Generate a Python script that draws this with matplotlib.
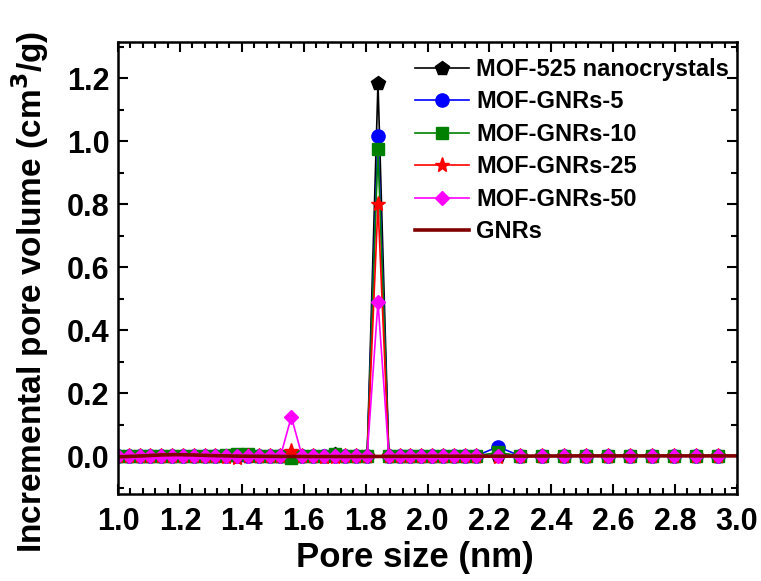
import matplotlib
matplotlib.use("Agg")
import matplotlib.pyplot as plt
from matplotlib.ticker import MultipleLocator

plt.rcParams['font.family'] = ['Liberation Sans', 'DejaVu Sans']
plt.rcParams['font.weight'] = 'bold'

# pore size grid (nm)
pore = [1.000, 1.035, 1.070, 1.105, 1.140, 1.175, 1.210, 1.245, 1.280, 1.315,
        1.350, 1.385, 1.420, 1.455, 1.490, 1.525, 1.560, 1.595, 1.630, 1.665,
        1.700, 1.735, 1.770, 1.805, 1.840, 1.875, 1.910, 1.945, 1.980, 2.015,
        2.050, 2.085, 2.120, 2.157, 2.228, 2.299, 2.370, 2.441, 2.512, 2.583,
        2.654, 2.725, 2.796, 2.867, 2.938]

mof525 = [0.001, 0.001, 0.001, 0.002, 0.002, 0.002, 0.002, 0.002, 0.001, 0.001,
          0.001, 0.002, 0.002, 0.001, 0.001, 0.001, 0.002, 0.001, 0.001, 0.001,
          0.008, 0.002, 0.001, 0.001, 1.185, 0.001, 0.001, 0.001, 0.001, 0.001,
          0.001, 0.001, 0.001, 0.001, 0.002, 0.001, 0.001, 0.001, 0.001, 0.001,
          0.001, 0.001, 0.001, 0.001, 0.001]
gnrs5 = [0.001, 0.001, 0.001, 0.001, 0.001, 0.001, 0.001, 0.001, 0.001, 0.001,
         0.001, 0.001, 0.001, 0.001, 0.001, 0.001, 0.000, 0.001, 0.001, 0.001,
         0.001, 0.001, 0.001, 0.001, 1.018, 0.001, 0.001, 0.001, 0.001, 0.001,
         0.001, 0.001, 0.001, 0.001, 0.030, 0.001, 0.001, 0.001, 0.001, 0.001,
         0.001, 0.001, 0.001, 0.001, 0.001]
gnrs10 = [0.001, 0.001, 0.001, 0.001, 0.001, 0.001, 0.001, 0.001, 0.001, 0.001,
          0.005, 0.007, 0.006, 0.001, 0.001, 0.001, -0.006, 0.001, 0.001, 0.001,
          0.006, 0.001, 0.001, 0.001, 0.975, 0.001, 0.001, 0.001, 0.001, 0.001,
          0.001, 0.001, 0.001, 0.001, 0.012, 0.001, 0.001, 0.001, 0.001, 0.001,
          0.001, 0.001, 0.001, 0.001, 0.001]
gnrs25 = [0.000, 0.000, 0.000, 0.000, 0.000, 0.000, 0.000, 0.000, 0.000, 0.000,
          -0.004, -0.005, 0.000, 0.000, 0.000, 0.000, 0.016, 0.000, 0.000, -0.004,
          -0.004, 0.000, 0.000, 0.000, 0.800, 0.000, 0.000, 0.000, 0.000, 0.000,
          0.000, 0.000, 0.000, 0.000, -0.004, 0.000, 0.000, 0.000, 0.000, 0.000,
          0.000, 0.000, 0.000, 0.000, 0.000]
gnrs50 = [0.000, 0.000, 0.000, 0.000, 0.000, 0.000, 0.000, 0.000, 0.000, 0.000,
          0.000, 0.000, 0.000, 0.000, 0.000, 0.000, 0.125, 0.000, 0.000, 0.000,
          0.000, 0.000, 0.000, 0.000, 0.490, 0.000, 0.000, 0.000, 0.000, 0.000,
          0.000, 0.000, 0.000, 0.000, 0.000, 0.000, 0.000, 0.000, 0.000, 0.000,
          0.000, 0.000, 0.000, 0.000, 0.000]

gnr_x = [1.00, 1.08, 1.14, 1.19, 1.24, 1.30, 1.40, 1.60, 1.80, 2.00, 2.20, 2.50, 2.80, 3.00]
gnr_y = [-0.002, 0.001, 0.004, 0.005, 0.004, 0.002, 0.000, -0.001, -0.001, 0.000, 0.000, 0.001, 0.001, 0.001]

series = [
    ('MOF-525 nanocrystals', mof525, 'black', 'p', 10),
    ('MOF-GNRs-5', gnrs5, 'blue', 'o', 9.5),
    ('MOF-GNRs-10', gnrs10, 'green', 's', 9),
    ('MOF-GNRs-25', gnrs25, 'red', '*', 11),
    ('MOF-GNRs-50', gnrs50, 'magenta', 'D', 7.5),
]

fig = plt.figure(figsize=(7.61, 5.81), dpi=100)
ax = fig.add_axes([118/761, 1-494/581, 619/761, 452/581])

for name, ys, col, mk, ms in series:
    ax.plot(pore, ys, color=col, marker=mk, markersize=ms, lw=1.2, label=name)
ax.plot(gnr_x, gnr_y, color='#800000', lw=2.6, label='GNRs')

ax.set_xlim(1.0, 3.0)
ax.set_ylim(-0.12, 1.315)
ax.xaxis.set_major_locator(MultipleLocator(0.2))
ax.xaxis.set_minor_locator(MultipleLocator(0.04))
ax.yaxis.set_major_locator(MultipleLocator(0.2))
ax.yaxis.set_minor_locator(MultipleLocator(0.1))
ax.xaxis.set_major_formatter(plt.FuncFormatter(lambda v, p: '%.1f' % v))
ax.yaxis.set_major_formatter(plt.FuncFormatter(lambda v, p: '%.1f' % v))
ax.tick_params(which='both', direction='in', top=True, right=True, width=1.5)
ax.tick_params(which='major', length=7, labelsize=22)
ax.tick_params(axis='y', which='major', pad=6)
ax.tick_params(axis='x', which='major', pad=9)
ax.tick_params(which='minor', length=4)
for s in ax.spines.values():
    s.set_linewidth(1.8)

ax.set_xlabel('Pore size (nm)', fontsize=25, fontweight='bold')
ax.set_ylabel('Incremental pore volume (cm$^\\mathbf{3}$/g)', fontsize=24, fontweight='bold')
ax.xaxis.set_label_coords(0.48, -0.105)
ax.yaxis.set_label_coords(-0.108, 0.447)

leg = ax.legend(loc='upper left', bbox_to_anchor=(415/761, 1-58/581), bbox_transform=fig.transFigure,
                frameon=False, fontsize=17, handlelength=2.3, handletextpad=0.3,
                labelspacing=0.4, borderpad=0, borderaxespad=0)
for t in leg.get_texts():
    t.set_fontweight('bold')

fig.savefig('out.png', dpi=100)
